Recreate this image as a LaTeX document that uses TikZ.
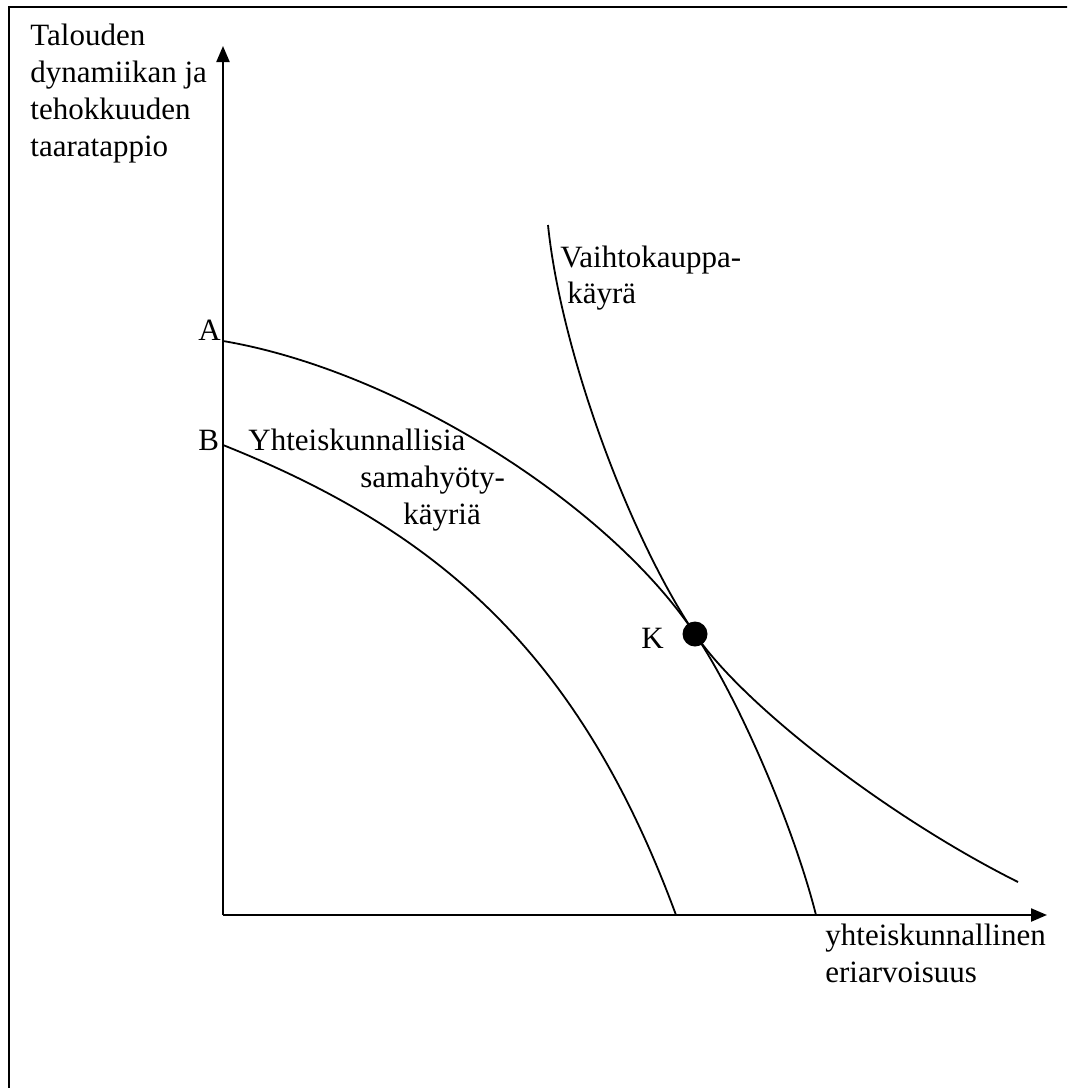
\documentclass[tikz,border=0pt]{standalone}
\usepackage{fontspec}
\setmainfont{Liberation Serif}
\usetikzlibrary{arrows.meta}
\begin{document}
\begin{tikzpicture}[x=0.5pt,y=-0.5pt,
  lbl/.style={anchor=base west, inner sep=0pt, font=\fontsize{15.5pt}{18.5pt}\selectfont},
  curve/.style={line width=0.9pt},
  axis/.style={line width=1.1pt, -{Triangle[length=8pt,width=6.5pt]}}]
\useasboundingbox (0,0) rectangle (1067,1088);
\clip (0,0) rectangle (1067,1088);
% frame
\draw[line width=1pt] (9,1100) -- (9,7) -- (1080,7);
% axes
\coordinate (O) at (223,915);
\coordinate (ytip) at (223,46);
\coordinate (xtip) at (1047,915);
\draw[axis] (O) -- (ytip);
\draw[axis] (O) -- (xtip);
% key points
\coordinate (A) at (223,341);
\coordinate (B) at (223,445);
\coordinate (K) at (695,634);
\coordinate (Aend) at (816,915);
\coordinate (Bend) at (676,915);
\coordinate (Vtop) at (548,225);
\coordinate (Vend) at (1018,882);
% curve A (outer social indifference curve)
\draw[curve] (A) .. controls (395,370) and (607,502) .. (K)
                 .. controls (740,701) and (794,828) .. (Aend);
% curve B (inner social indifference curve)
\draw[curve] (B) .. controls (441,532) and (580,655) .. (Bend);
% trade-off curve
\draw[curve] (Vtop) .. controls (561,352) and (629,536) .. (K)
                    .. controls (743,705) and (888,817) .. (Vend);
% point K
\fill (K) circle[radius=6.25pt];
% labels
\node[lbl] (t1) at (30,45) {Talouden};
\node[lbl] (t2) at (30,82) {dynamiikan ja};
\node[lbl] (t3) at (30,119) {tehokkuuden};
\node[lbl] (t4) at (30,156) {taaratappio};
\node[lbl] (la) at (198,340) {A};
\node[lbl] (lb) at (198,450) {B};
\node[lbl] (s1) at (248,450) {Yhteiskunnallisia};
\node[lbl] (s2) at (360,487) {samahyöty-};
\node[lbl] (s3) at (403,524) {käyriä};
\node[lbl] (v1) at (560,267) {Vaihtokauppa-};
\node[lbl] (v2) at (567,303) {käyrä};
\node[lbl] (lk) at (641,648) {K};
\node[lbl] (x1) at (825,945) {yhteiskunnallinen};
\node[lbl] (x2) at (825,982) {eriarvoisuus};
\end{tikzpicture}
\end{document}
